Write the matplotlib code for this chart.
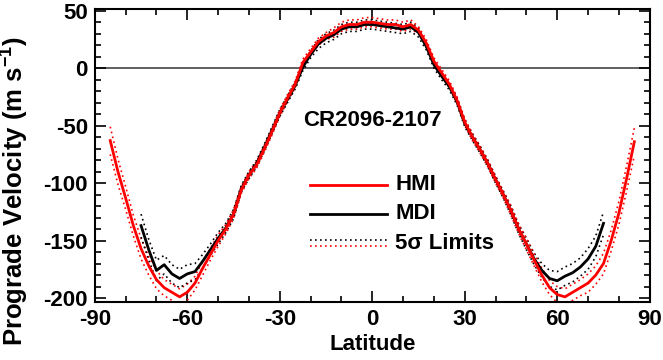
import matplotlib
matplotlib.use("Agg")
import matplotlib.pyplot as plt
from matplotlib.ticker import MultipleLocator

plt.rcParams.update({
    "font.family": "Liberation Sans",
    "font.weight": "bold",
    "axes.labelweight": "bold",
    "axes.unicode_minus": False,
    "mathtext.fontset": "custom",
    "mathtext.rm": "Liberation Sans:bold",
    "mathtext.default": "rm",
})

# HMI rotation profile (red), latitude grid every 2.5 deg
lat_hmi = [-85.0, -82.5, -80.0, -77.5, -75.0, -72.5, -70.0, -67.5, -65.0, -62.5,
           -60.0, -57.5, -55.0, -52.5, -50.0, -47.5, -45.0, -42.5, -40.0, -37.5,
           -35.0, -32.5, -30.0, -27.5, -25.0, -22.5, -20.0, -17.5, -15.0, -12.5,
           -10.0, -7.5, -5.0, -2.5, 0.0, 2.5, 5.0, 7.5, 10.0, 12.5,
           15.0, 17.5, 20.0, 22.5, 25.0, 27.5, 30.0, 32.5, 35.0, 37.5,
           40.0, 42.5, 45.0, 47.5, 50.0, 52.5, 55.0, 57.5, 60.0, 62.5,
           65.0, 67.5, 70.0, 72.5, 75.0, 77.5, 80.0, 82.5, 85.0]
hmi = [-63, -90, -113, -137, -157, -172, -184, -191, -195, -199,
       -195, -187, -174, -162, -150, -140, -127, -106, -93, -84,
       -70, -55, -39, -26, -14, 5, 14, 23, 28, 31,
       36, 38, 38, 40, 40, 39, 38, 38, 36, 38,
       33, 22, 6, -4, -14, -28, -47, -60, -71, -83,
       -97, -110, -124, -140, -153, -167, -180, -191, -197, -199,
       -195, -191, -187, -180, -170, -150, -126, -96, -64]
hmi_sig = [12, 11, 10, 9, 9, 8, 8, 7, 7, 7,
           7, 6, 6, 5, 5, 4, 4, 3, 3, 3,
           3, 3, 3, 3, 3, 3, 3, 3, 3, 4,
           4, 4, 4, 4, 4, 4, 4, 4, 4, 4,
           3, 3, 3, 3, 3, 3, 3, 3, 3, 3,
           3, 3, 4, 4, 5, 5, 6, 6, 7, 7,
           7, 7, 8, 8, 9, 9, 10, 11, 12]

# MDI rotation profile (black)
lat_mdi = [-75.0, -72.5, -70.0, -67.5, -65.0, -62.5, -60.0, -57.5, -55.0, -52.5,
           -50.0, -47.5, -45.0, -42.5, -40.0, -37.5, -35.0, -32.5, -30.0, -27.5,
           -25.0, -22.5, -20.0, -17.5, -15.0, -12.5, -10.0, -7.5, -5.0, -2.5,
           0.0, 2.5, 5.0, 7.5, 10.0, 12.5, 15.0, 17.5, 20.0, 22.5,
           25.0, 27.5, 30.0, 32.5, 35.0, 37.5, 40.0, 42.5, 45.0, 47.5,
           50.0, 52.5, 55.0, 57.5, 60.0, 62.5, 65.0, 67.5, 70.0, 72.5, 75.0]
mdi = [-137, -158, -176, -171, -179, -183, -179, -177, -168, -158,
       -148, -139, -127, -105, -93, -83, -69, -54, -39, -27,
       -15, 1, 12, 21, 26, 29, 34, 36, 36, 38,
       38, 37, 36, 35, 34, 36, 31, 19, 3, -7,
       -16, -29, -48, -60, -71, -83, -97, -110, -124, -140,
       -153, -166, -176, -183, -185, -181, -178, -173, -166, -155, -135]
mdi_sig = [10, 9, 9, 8, 8, 8, 8, 7, 6, 5,
           5, 4, 4, 3, 3, 3, 3, 3, 3, 3,
           3, 3, 3, 4, 4, 4, 4, 4, 4, 4,
           4, 4, 4, 4, 4, 4, 4, 3, 3, 3,
           3, 3, 3, 3, 3, 3, 3, 3, 4, 4,
           5, 5, 6, 7, 8, 8, 8, 8, 9, 9, 10]

fig = plt.figure(figsize=(6.63, 3.6), dpi=100)
ax = fig.add_axes([0.143, 0.161, 0.837, 0.814])

dots = (0, (1, 2))
ax.axhline(0, color="#444444", lw=1.2, zorder=1)
for sgn in (1, -1):
    ax.plot(lat_mdi, [v + sgn * s for v, s in zip(mdi, mdi_sig)],
            color="black", lw=1.2, ls=dots, zorder=2)
    ax.plot(lat_hmi, [v + sgn * s for v, s in zip(hmi, hmi_sig)],
            color="red", lw=1.2, ls=dots, zorder=2)
ax.plot(lat_mdi, mdi, color="black", lw=2, zorder=3)
ax.plot(lat_hmi, hmi, color="red", lw=2, zorder=4)

ax.set_xlim(-90, 90)
ax.set_ylim(-203.5, 51.5)
ax.xaxis.set_major_locator(MultipleLocator(30))
ax.xaxis.set_minor_locator(MultipleLocator(10))
ax.yaxis.set_major_locator(MultipleLocator(50))
ax.yaxis.set_minor_locator(MultipleLocator(10))
ax.tick_params(which="both", direction="in", top=True, right=True,
               labelsize=16, width=1.2, pad=5)
ax.tick_params(which="major", length=8)
ax.tick_params(which="minor", length=4)
for sp in ax.spines.values():
    sp.set_linewidth(1.5)

ax.set_xlabel("Latitude", fontsize=16, labelpad=3)
ax.set_ylabel("Prograde Velocity (m s$^{-1}$)", fontsize=18.5)
ax.yaxis.set_label_coords(-0.115, 0.38)

ax.text(0.5, 0.621, "CR2096-2107", transform=ax.transAxes,
        ha="center", va="center", fontsize=16)

# legend drawn by hand so the 5 sigma entry shows both dotted lines
lx = [0.388, 0.527]
tx = 0.541
ax.plot(lx, [0.400, 0.400], color="red", lw=2, transform=ax.transAxes)
ax.plot(lx, [0.301, 0.301], color="black", lw=2, transform=ax.transAxes)
ax.plot(lx, [0.212, 0.212], color="black", lw=1.2, ls=dots, transform=ax.transAxes)
ax.plot(lx, [0.190, 0.190], color="red", lw=1.2, ls=dots, transform=ax.transAxes)
ax.text(tx, 0.400, "HMI", transform=ax.transAxes, va="center", fontsize=16)
ax.text(tx, 0.301, "MDI", transform=ax.transAxes, va="center", fontsize=16)
ax.text(tx, 0.200, "5σ Limits", transform=ax.transAxes, va="center", fontsize=16)

fig.savefig("out.png", dpi=100)
